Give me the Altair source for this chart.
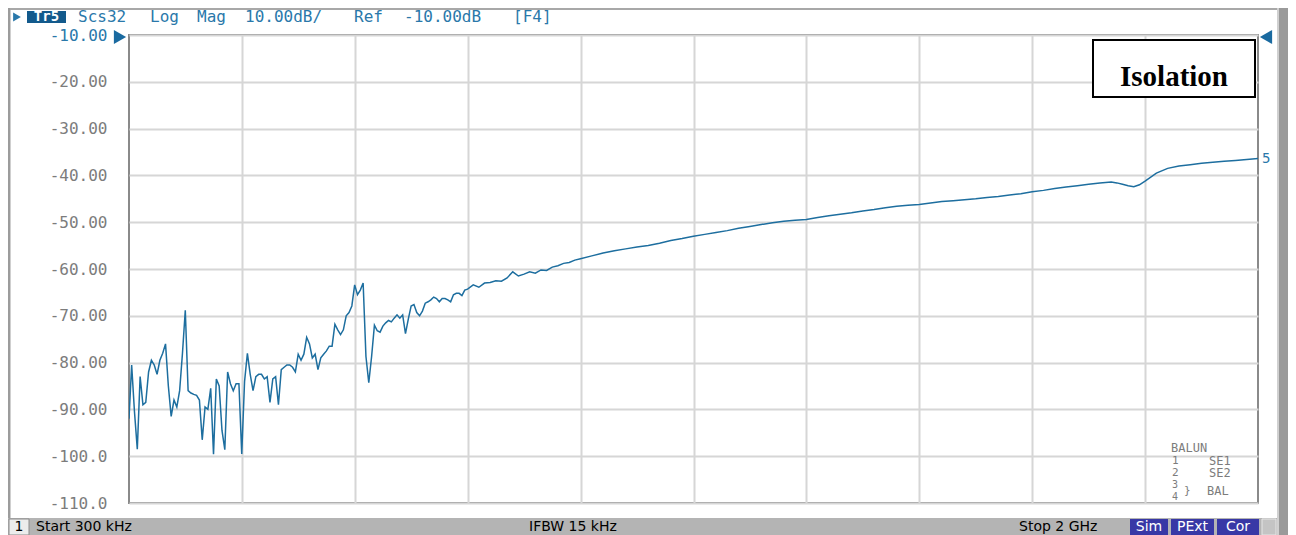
import altair as alt
import pandas as pd

# ---------------- data ----------------
LOW_FREQ_MHZ = [
    0.3, 5, 10, 15, 20, 25, 30, 35, 40, 45,
    50, 55, 60, 65, 70, 75, 80, 85, 90, 95,
    100, 105, 110, 115, 120, 125, 130, 135, 140, 145,
    150, 155, 160, 165, 170, 175, 180, 185, 190, 195,
    200, 205, 210, 215, 220, 225, 230, 235, 240, 245,
    250, 255, 260, 265, 270, 275, 280, 285, 290, 295,
    300, 305, 310, 315, 320, 325, 330, 335, 340, 345,
    350, 355, 360, 365, 370, 375, 380, 385, 390, 395,
    400, 405, 410, 415, 420, 425, 430, 435, 440, 445,
    450, 455, 460, 465, 470, 475, 480, 485, 490, 495,
    500, 505, 510, 515, 520, 525, 530, 535, 540, 545,
    550, 555, 560, 565, 570, 575, 580, 585, 590, 595,
    600,
]
LOW_S32_DB = [
    -92.0, -80.5, -90.5, -98.5, -83.0, -89.0, -88.5, -82.0, -79.5, -80.5,
    -82.5, -79.5, -78.0, -76.0, -85.0, -91.5, -88.0, -89.5, -86.0, -78.0,
    -68.8, -86.0, -86.5, -86.8, -87.0, -88.0, -96.5, -89.5, -90.0, -85.5,
    -99.6, -83.5, -85.0, -94.5, -98.6, -82.0, -84.5, -86.0, -84.5, -84.5,
    -99.5, -84.0, -78.0, -82.5, -86.0, -83.0, -82.5, -82.5, -83.5, -83.0,
    -88.5, -83.5, -83.0, -89.0, -81.5, -81.0, -80.5, -80.5, -81.0, -82.0,
    -78.2, -79.5, -78.2, -74.6, -76.0, -79.0, -78.2, -81.5, -79.0, -78.2,
    -77.5, -76.5, -76.5, -71.8, -73.0, -74.0, -73.0, -70.0, -69.3, -67.9,
    -63.4, -65.5, -64.5, -63.0, -78.7, -84.3, -78.7, -72.0, -73.2, -73.5,
    -72.2, -71.5, -71.0, -71.3, -70.5, -69.8, -70.5, -69.8, -73.8, -70.7,
    -67.9, -67.6, -69.3, -70.0, -69.0, -67.3, -67.0, -66.6, -66.0, -66.3,
    -67.0, -66.3, -66.3, -66.6, -67.0, -65.5, -65.2, -65.2, -65.7, -64.5,
    -64.3,
]
MID_FREQ_MHZ = [610, 620, 630, 640, 650, 660, 670, 680, 690, 700,
                710, 720, 730, 740, 750, 760, 770, 780, 790, 800]
MID_S32_DB = [-63.4, -63.9, -63.0, -62.9, -62.5, -62.6, -61.9, -60.6, -61.5, -61.1,
              -60.6, -60.9, -60.2, -60.3, -59.6, -59.3, -58.8, -58.6, -58.1, -57.8]
HIGH_FREQ_MHZ = [820, 840, 860, 880, 900, 920, 940, 960, 980, 1000,
                 1020, 1040, 1060, 1080, 1100, 1120, 1140, 1160, 1180, 1200,
                 1220, 1240, 1260, 1280, 1300, 1320, 1340, 1360, 1380, 1400,
                 1420, 1440, 1460, 1480, 1500, 1520, 1540, 1560, 1580, 1600,
                 1620, 1640, 1660, 1680, 1700, 1720, 1740, 1750, 1760, 1770,
                 1780, 1790, 1800, 1820, 1840, 1860, 1880, 1900, 1920, 1940,
                 1960, 1980, 2000]
HIGH_S32_DB = [-57.2, -56.6, -56.1, -55.7, -55.3, -55.0, -54.5, -53.9, -53.5, -53.0,
               -52.6, -52.2, -51.8, -51.3, -50.9, -50.5, -50.1, -49.8, -49.6, -49.4,
               -49.0, -48.6, -48.3, -48.0, -47.6, -47.3, -46.9, -46.6, -46.4, -46.2,
               -45.9, -45.6, -45.4, -45.2, -45.0, -44.7, -44.5, -44.2, -43.9, -43.5,
               -43.2, -42.8, -42.5, -42.2, -41.9, -41.6, -41.4, -41.6, -41.9, -42.2,
               -42.4, -42.0, -41.2, -39.5, -38.5, -38.0, -37.7, -37.4, -37.2, -37.0,
               -36.8, -36.6, -36.4]

Y_TICKS_DB = [-110, -100, -90, -80, -70, -60, -50, -40, -30, -20, -10]
START_MHZ = 0.3
STOP_MHZ = 2000.0
N_DIV = 10

HEADER_WORDS = ["Scs32", "Log", "Mag", "10.00dB/", "Ref", "-10.00dB", "[F4]"]
TRACE_NAME = "Tr5"
TRACE_NUMBER = "5"
BOX_LABEL = "Isolation"
STATUS_LEFT = "Start 300 kHz"
STATUS_MID = "IFBW 15 kHz"
STATUS_RIGHT = "Stop 2 GHz"
STATUS_FLAGS = ["Sim", "PExt", "Cor"]

freq = LOW_FREQ_MHZ + MID_FREQ_MHZ + HIGH_FREQ_MHZ
s32 = LOW_S32_DB + MID_S32_DB + HIGH_S32_DB
assert len(freq) == len(s32)
df = pd.DataFrame({"f": freq, "db": s32})
last = df.tail(1)

# ---------------- layout / style ----------------
W, H = 1129, 468
PAD = {"left": 121, "top": 27, "right": 30, "bottom": 32}
TRACE = "#1d6e9f"
REF_BLUE = "#2a78aa"
LABEL_GRAY = "#7c7c7c"
GRID = "#d6d6d6"
MONO = "DejaVu Sans Mono"
SANS = "DejaVu Sans"

def px(x):
    return x - 129

def py(y):
    return y - 35

one = pd.DataFrame({"k": [0]})

def rect(x1, y1, x2, y2, fill, stroke=None, sw=0.0):
    kw = dict(fill=fill, clip=False)
    if stroke is not None:
        kw.update(stroke=stroke, strokeWidth=sw)
    else:
        kw.update(strokeWidth=0)
    return alt.Chart(one).mark_rect(**kw).encode(
        x=alt.value(px(x1)), x2=alt.value(px(x2)),
        y=alt.value(py(y1)), y2=alt.value(py(y2)))

def text(s, x, y, color="#000000", font=MONO, size=14, align="left", weight="normal"):
    return alt.Chart(one).mark_text(
        color=color, font=font, fontSize=size, align=align,
        baseline="middle", fontWeight=weight, clip=False
    ).encode(x=alt.value(px(x)), y=alt.value(py(y)), text=alt.value(s))

def tri(shape, x, y, size, color):
    return alt.Chart(one).mark_point(
        shape=shape, filled=True, size=size, color=color, opacity=1, clip=False
    ).encode(x=alt.value(px(x)), y=alt.value(py(y)))

step = (STOP_MHZ - START_MHZ) / N_DIV
x_grid = [START_MHZ + step * k for k in range(1, N_DIV)]

x_scale = alt.Scale(domain=[START_MHZ, STOP_MHZ], nice=False, zero=False)
y_scale = alt.Scale(domain=[-110, -10], nice=False, zero=False)

label_expr = ("datum.value <= -100 ? '-' + format(-datum.value, '.1f') "
              ": '-' + format(-datum.value, '.2f')")

trace = alt.Chart(df).mark_line(color=TRACE, strokeWidth=1.5, clip=True).encode(
    x=alt.X("f:Q", scale=x_scale,
            axis=alt.Axis(values=x_grid, grid=True, labels=False, ticks=False,
                          domain=False, title=None, gridColor=GRID, gridWidth=2)),
    y=alt.Y("db:Q", scale=y_scale,
            axis=alt.Axis(values=Y_TICKS_DB, grid=True, ticks=False, domain=False,
                          title=None, gridColor=GRID, gridWidth=2,
                          labelExpr=label_expr, labelFont=MONO, labelFontSize=16,
                          labelPadding=22,
                          labelColor={"condition": {"test": "datum.value == -10",
                                                    "value": REF_BLUE},
                                      "value": LABEL_GRAY})),
)

trace_no = alt.Chart(last).mark_text(
    align="left", baseline="middle", dx=4, color=REF_BLUE, font=MONO, fontSize=14
).encode(x="f:Q", y="db:Q", text=alt.value(TRACE_NUMBER))

layers = [trace, trace_no]

# outer frame pieces
layers += [
    rect(8, 8, 1288, 10, "#a8a8a8"),
    rect(8, 8, 10, 535, "#9c9c9c"),
    rect(10, 10, 11, 535, "#cfcfcf"),
    rect(1279, 8, 1288, 535, "#9a9a9a"),
    rect(1277, 8, 1279, 535, "#d0d0d0"),
]

# header
layers += [
    tri("triangle-right", 17, 17, 80, REF_BLUE),
    rect(27, 11, 66, 23, "#135a8c"),
    text(TRACE_NAME, 46.5, 17, color="#ffffff", size=14, align="center", weight="bold"),
]
header_x = [78, 150, 197, 245, 354, 404, 513]
for w, hx in zip(HEADER_WORDS, header_x):
    layers.append(text(w, hx, 17, color=REF_BLUE, size=16))

# reference markers
layers += [
    tri("triangle-right", 120, 37, 200, "#1a6aa0"),
    tri("triangle-left", 1266, 37, 200, "#1a6aa0"),
]

# Isolation box
layers += [
    rect(1093, 40, 1255, 97, "#ffffff", stroke="#000000", sw=2),
    text(BOX_LABEL, 1174, 77, color="#000000", font="Liberation Serif", size=29,
         align="center", weight="bold"),
]

# BALUN legend
LEG = 11
layers += [
    text("BALUN", 1171, 448, color=LABEL_GRAY, size=LEG + 1),
    text("1", 1172, 461, color=LABEL_GRAY, size=LEG),
    text("SE1", 1209, 461, color=LABEL_GRAY, size=LEG + 1),
    text("2", 1172, 473, color=LABEL_GRAY, size=LEG),
    text("SE2", 1209, 473, color=LABEL_GRAY, size=LEG + 1),
    text("3", 1172, 485, color=LABEL_GRAY, size=LEG - 1),
    text("}", 1184, 491, color=LABEL_GRAY, size=LEG),
    text("BAL", 1207, 491, color=LABEL_GRAY, size=LEG + 1),
    text("4", 1172, 497, color=LABEL_GRAY, size=LEG - 1),
]

# status bar
layers += [
    rect(8, 518, 1277, 535, "#b4b4b4"),
    rect(9, 519, 29, 535, "#ececec", stroke="#8c8c8c", sw=1),
    text("1", 19, 527, color="#000000", font=SANS, size=14, align="center"),
    text(STATUS_LEFT, 36, 527, color="#000000", font=SANS, size=14),
    text(STATUS_MID, 529, 527, color="#000000", font=SANS, size=14),
    text(STATUS_RIGHT, 1019, 527, color="#000000", font=SANS, size=14),
]
flag_x = [(1130, 1168), (1171, 1214), (1217, 1259)]
for s, (a, b) in zip(STATUS_FLAGS, flag_x):
    layers.append(rect(a, 519, b, 535, "#3838a6"))
    layers.append(text(s, (a + b) / 2, 527, color="#ffffff", font=SANS, size=14,
                       align="center"))
layers.append(rect(1262, 519, 1276, 535, "#c4c4c4", stroke="#e6e6e6", sw=1))

chart = alt.layer(*layers).properties(
    width=W, height=H, padding=PAD,
    autosize=alt.AutoSizeParams(type="none"),
    background="#ffffff",
).configure_view(stroke="#8a8a8a", strokeWidth=2)

chart.save("out.html", embed_options={"renderer": "svg", "actions": False})
